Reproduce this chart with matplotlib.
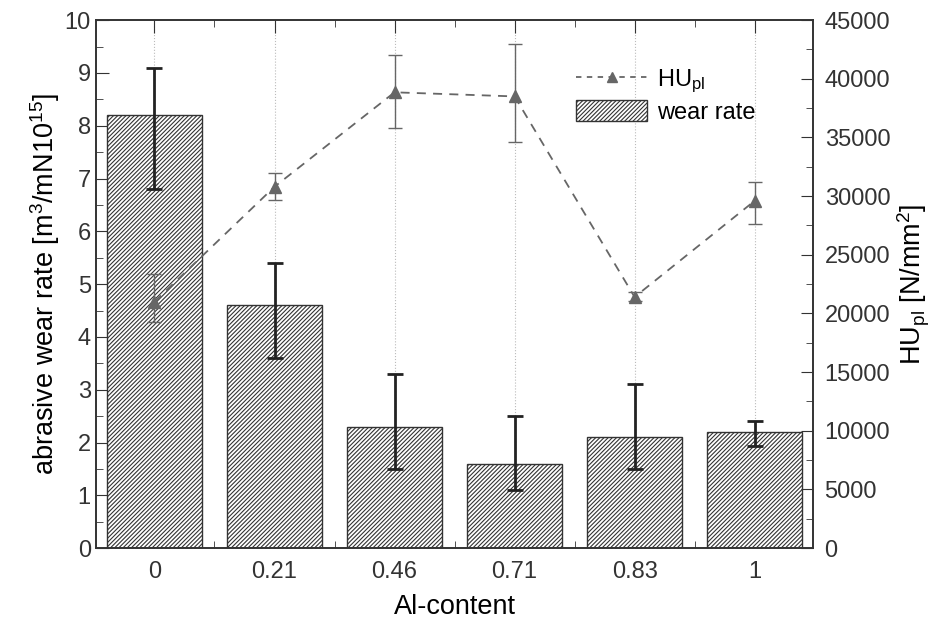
import matplotlib.pyplot as plt
from matplotlib.ticker import MultipleLocator, FixedLocator
from matplotlib.lines import Line2D
from matplotlib.patches import Patch

plt.rcParams['font.family'] = ['Liberation Sans', 'DejaVu Sans']
plt.rcParams['mathtext.default'] = 'regular'
plt.rcParams['hatch.linewidth'] = 0.8

categories = ['0', '0.21', '0.46', '0.71', '0.83', '1']
wear_rate = [8.2, 4.6, 2.3, 1.6, 2.1, 2.2]
wear_low = [6.8, 3.6, 1.5, 1.1, 1.5, 1.93]
wear_high = [9.1, 5.4, 3.3, 2.5, 3.1, 2.4]
hu_pl = [21000, 30800, 38850, 38500, 21400, 29600]
hu_low = [19300, 29700, 35800, 34600, 21100, 27600]
hu_high = [23400, 32000, 42000, 43000, 21800, 31200]

x = list(range(len(categories)))

fig = plt.figure(figsize=(9.47, 6.3), dpi=100)
ax = fig.add_axes([0.101, 0.13, 0.758, 0.838])
ax2 = ax.twinx()

# dotted verticals at categories
for xi in x:
    ax.axvline(xi, color='#bbbbbb', linestyle=':', linewidth=0.8, zorder=0)

ax.bar(x, wear_rate, width=0.79, color='white', edgecolor='#333333',
       hatch='////////', linewidth=1.0, zorder=2)
err = [[w - l for w, l in zip(wear_rate, wear_low)],
       [h - w for w, h in zip(wear_rate, wear_high)]]
ax.errorbar(x, wear_rate, yerr=err, fmt='none', ecolor='#222222',
            elinewidth=2.0, capsize=6, capthick=2.0, zorder=3)

hu_err = [[v - l for v, l in zip(hu_pl, hu_low)],
          [h - v for v, h in zip(hu_pl, hu_high)]]
ax2.errorbar(x, hu_pl, yerr=hu_err, color='#666666', linestyle=(0, (5, 4)),
             linewidth=1.3, marker='^', markersize=8, elinewidth=1.0,
             capsize=5, capthick=1.0)

ax.set_xlim(-0.49, 5.49)
ax.set_ylim(0, 10)
ax2.set_ylim(0, 45000)
ax.set_xticks(x)
ax.set_xticklabels(categories)
ax.xaxis.set_minor_locator(FixedLocator([i + 0.5 for i in range(-1, 6)]))
ax.yaxis.set_major_locator(MultipleLocator(1))
ax.yaxis.set_minor_locator(MultipleLocator(0.5))
ax2.yaxis.set_major_locator(MultipleLocator(5000))
ax2.yaxis.set_minor_locator(MultipleLocator(2500))

for a in (ax, ax2):
    for s in a.spines.values():
        s.set_color('#333333')
        s.set_linewidth(1.2)
ax.tick_params(axis='both', which='both', direction='in', top=True, labelsize=17,
               colors='#333333')
ax.tick_params(which='major', length=9)
ax.tick_params(which='minor', length=5)
ax.tick_params(axis='x', pad=9)
ax2.tick_params(axis='y', which='both', direction='in', labelsize=17, colors='#333333',
                pad=8)
ax2.tick_params(which='major', length=9)
ax2.tick_params(which='minor', length=5)

ax.set_xlabel('Al-content', fontsize=19.5, labelpad=8)
ax.set_ylabel('abrasive wear rate [m$^3$/mN10$^{15}$]', fontsize=19.5, labelpad=2)
ax2.set_ylabel('HU$_{pl}$ [N/mm$^2$]', fontsize=19.5, labelpad=4)

handles = [Line2D([], [], color='#666666', linestyle=(0, (3, 3)), marker='^',
                  markersize=7, linewidth=1.3),
           Patch(facecolor='white', edgecolor='#333333', hatch='////////')]
ax2.legend(handles, ['HU$_{pl}$', 'wear rate'], loc='upper left',
           bbox_to_anchor=(0.64, 0.95), frameon=False, fontsize=17,
           handlelength=3.0, handleheight=1.0, labelspacing=0.2, handletextpad=0.4)

fig.savefig('out.png', dpi=100)
